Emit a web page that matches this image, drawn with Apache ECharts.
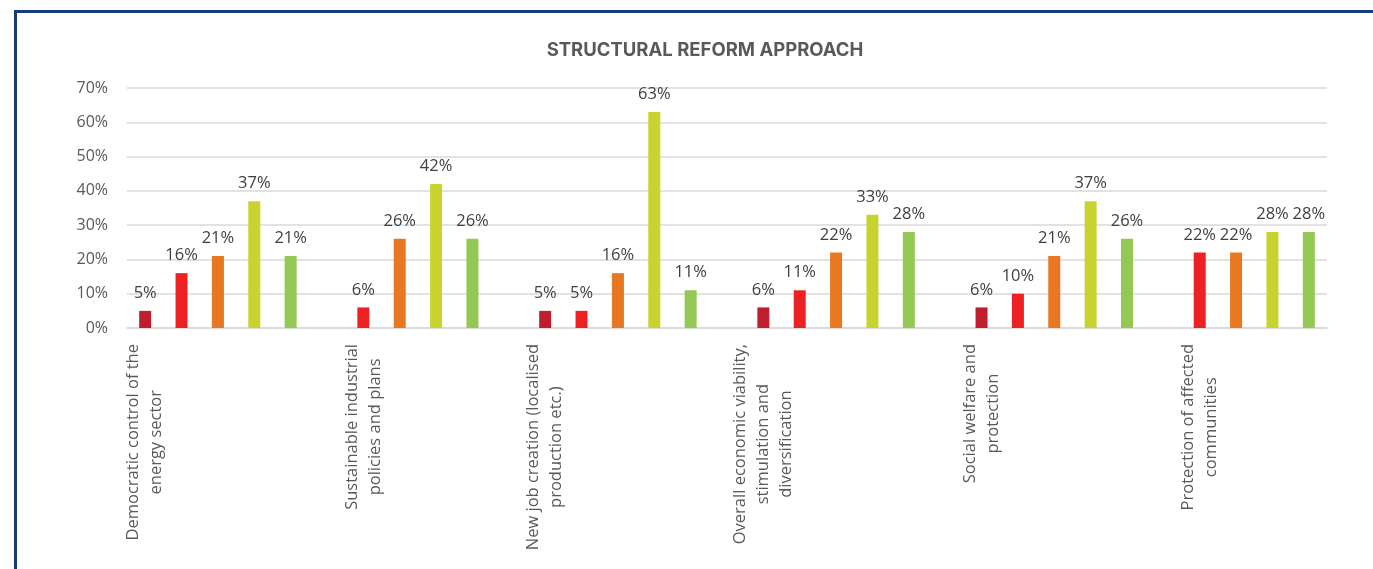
<!DOCTYPE html>
<html>
<head>
<meta charset="utf-8">
<script src="https://cdn.jsdelivr.net/npm/echarts@6/dist/echarts.min.js"></script>
<style>
  html, body { margin: 0; padding: 0; background: #fff; }
  #chart { width: 1373px; height: 569px; }
  #frame { position: absolute; left: 14px; top: 10px; right: 0; bottom: 0;
           border-top: 3px solid #163C7E; border-left: 3px solid #163C7E; pointer-events: none; }
</style>
</head>
<body>
<div id="chart"></div>
<div id="frame"></div>
<script>
// ---- data ----
const titleText = 'STRUCTURAL REFORM APPROACH';
const groupNames = [
  'Democratic control of the\nenergy sector',
  'Sustainable industrial\npolicies and plans',
  'New job creation (localised\nproduction etc.)',
  'Overall economic viability,\nstimulation and\ndiversification',
  'Social welfare and\nprotection',
  'Protection of affected\ncommunities'
];
// values in %, null = no bar in that group
const darkRed     = [5,  null, 5,  6,  6,  null];
const red         = [16, 6,    5,  11, 10, 22];
const orange      = [21, 26,   16, 22, 21, 22];
const yellowGreen = [37, 42,   63, 33, 37, 28];
const green       = [21, 26,   11, 28, 26, 28];
const yTicks = [0, 10, 20, 30, 40, 50, 60, 70];

// ---- styles ----
const seriesList = [darkRed, red, orange, yellowGreen, green];
const seriesColors = ['#BE1E2D', '#ED2024', '#E87722', '#C9D32F', '#92C853'];

// Build one slot per bar, with an empty slot between groups (as in the source sheet)
const cats = [];
const data = [];
groupNames.forEach((name, g) => {
  let first = true;
  seriesList.forEach((arr, s) => {
    const v = arr[g];
    if (v === null) return;
    cats.push(first ? name : '');
    first = false;
    data.push({ value: v, itemStyle: { color: seriesColors[s] } });
  });
  if (g < groupNames.length - 1) {
    cats.push('');
    data.push({ value: null });
  }
});

const chart = echarts.init(document.getElementById('chart'), null, { renderer: 'canvas' });
const labelFont = '"Open Sans", "Noto Sans", sans-serif';

chart.setOption({
  animation: false,
  backgroundColor: '#ffffff',
  title: {
    text: titleText,
    left: 700,
    top: 36,
    textAlign: 'center',
    textStyle: { fontFamily: 'Inter, sans-serif', fontWeight: 'bold', fontSize: 18.5, color: '#595959' }
  },
  grid: { left: 127, right: 46, top: 88, bottom: 241, containLabel: false },
  xAxis: {
    type: 'category',
    data: cats,
    boundaryGap: true,
    axisTick: { show: false },
    axisLine: { lineStyle: { color: '#d9d9d9', width: 1.5 } },
    axisLabel: {
      interval: 0,
      rotate: 90,
      margin: 16,
      color: '#595959',
      fontFamily: labelFont,
      fontSize: 16.5,
      lineHeight: 23,
      formatter: function (v) {
        if (!v) return '';
        return v.split('\n').map(l => '{c|' + l + '}').join('\n');
      },
      rich: {
        c: { align: 'center', fontFamily: labelFont, fontSize: 16.5, lineHeight: 23, color: '#595959' }
      }
    }
  },
  yAxis: {
    type: 'value',
    min: yTicks[0],
    max: yTicks[yTicks.length - 1],
    interval: 10,
    axisLine: { show: false },
    axisTick: { show: false },
    splitLine: { lineStyle: { color: '#d9d9d9', width: 1.5 } },
    axisLabel: {
      margin: 19,
      color: '#595959',
      fontFamily: labelFont,
      fontSize: 16,
      formatter: '{value}%'
    }
  },
  series: [{
    type: 'bar',
    data: data,
    barWidth: 12,
    label: {
      show: true,
      position: 'top',
      distance: 9,
      color: '#404040',
      fontFamily: labelFont,
      fontSize: 16.5,
      formatter: function (p) { return p.value == null ? '' : p.value + '%'; }
    }
  }]
});
</script>
</body>
</html>
